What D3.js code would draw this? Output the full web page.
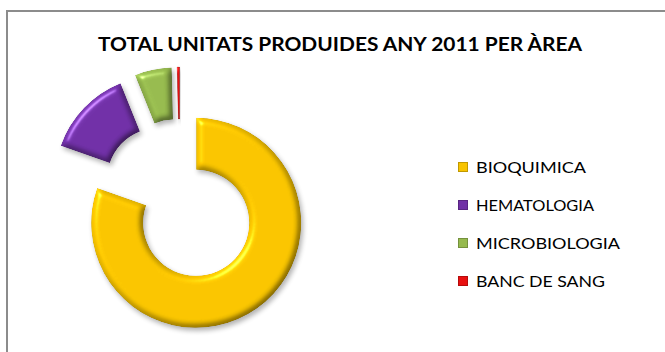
<!DOCTYPE html>
<html>
<head>
<meta charset="utf-8">
<script src="https://cdn.jsdelivr.net/npm/d3@7"></script>
<style>
  html, body { margin: 0; padding: 0; background: #fff; }
  svg { display: block; }
</style>
</head>
<body>
<svg id="chart" width="665" height="352"></svg>
<script>
// Units produced in 2011, by laboratory area (share of total, %)
const categories = ["BIOQUIMICA", "HEMATOLOGIA", "MICROBIOLOGIA", "BANC DE SANG"];
const values = [80.4, 13.5, 5.7, 0.4];
const colors = ["#F8C400", "#7030A6", "#96BA4E", "#E81010"];
const title = "TOTAL UNITATS PRODUIDES ANY 2011 PER ÀREA";

const svg = d3.select("#chart");
const W = 665, H = 352;

// chart frame (only the top and left edges fall inside the view)
svg.append("rect")
  .attr("x", 7).attr("y", 11)
  .attr("width", W + 10).attr("height", H + 10)
  .attr("fill", "#fff")
  .attr("stroke", "#8c8c8c").attr("stroke-width", 2);

// rounded bevel with a soft drop shadow
const defs = svg.append("defs");
function bevelFilter(id, blurDev, specAmt, shadow) {
  const f = defs.append("filter").attr("id", id)
    .attr("color-interpolation-filters", "sRGB")
    .attr("x", "-30%").attr("y", "-30%").attr("width", "160%").attr("height", "160%");
  f.append("feGaussianBlur").attr("in", "SourceAlpha").attr("stdDeviation", blurDev).attr("result", "blur");
  const diff = f.append("feDiffuseLighting").attr("in", "blur")
    .attr("surfaceScale", 5).attr("diffuseConstant", 1.0)
    .attr("lighting-color", "#ffffff").attr("result", "diff");
  diff.append("feDistantLight").attr("azimuth", 225).attr("elevation", 60);
  // flat areas keep the base colour; slopes turn lighter (top-left) or darker (bottom-right)
  f.append("feComposite").attr("in", "SourceGraphic").attr("in2", "diff")
    .attr("operator", "arithmetic").attr("k1", 0.62).attr("k2", 0.47).attr("k3", 0).attr("k4", 0)
    .attr("result", "lit");
  const spec = f.append("feSpecularLighting").attr("in", "blur")
    .attr("surfaceScale", 5).attr("specularConstant", 0.9)
    .attr("specularExponent", 35).attr("lighting-color", "#ffffff").attr("result", "spec");
  spec.append("feDistantLight").attr("azimuth", 225).attr("elevation", 35);
  f.append("feComposite").attr("in", "lit").attr("in2", "spec")
    .attr("operator", "arithmetic").attr("k1", 0).attr("k2", 1).attr("k3", specAmt).attr("k4", 0)
    .attr("result", "sum");
  f.append("feComposite").attr("in", "sum").attr("in2", "SourceAlpha").attr("operator", "in").attr("result", "shape");
  f.append("feGaussianBlur").attr("in", "SourceAlpha").attr("stdDeviation", 2.5).attr("result", "sblur");
  f.append("feOffset").attr("in", "sblur").attr("dx", 2).attr("dy", 3).attr("result", "soff");
  f.append("feComponentTransfer").attr("in", "soff").attr("result", "shadow")
    .append("feFuncA").attr("type", "linear").attr("slope", shadow);
  const merge = f.append("feMerge");
  merge.append("feMergeNode").attr("in", "shadow");
  merge.append("feMergeNode").attr("in", "shape");
}
bevelFilter("bevel", 3, 0.4, 0.3);

// title
svg.append("text")
  .attr("x", 340).attr("y", 51)
  .attr("text-anchor", "middle")
  .attr("font-family", "Lato, 'Open Sans', sans-serif")
  .attr("font-weight", "bold").attr("font-size", 18)
  .attr("textLength", 484).attr("lengthAdjust", "spacingAndGlyphs")
  .attr("fill", "#000")
  .text(title);

// exploded doughnut
const cx = 180, cy = 200, outerR = 105, innerR = 53, explode = 28;
const pie = d3.pie().sort(null).value(d => d.v).startAngle(0).endAngle(2 * Math.PI);
const arc = d3.arc().innerRadius(innerR).outerRadius(outerR);
const data = categories.map((c, i) => ({ c, v: values[i], col: colors[i] }));

const g = svg.append("g").attr("transform", `translate(${cx},${cy})`);
g.selectAll("path.slice")
  .data(pie(data))
  .join("path")
  .attr("class", "slice")
  .attr("transform", d => {
    const a = (d.startAngle + d.endAngle) / 2;
    return `translate(${explode * Math.sin(a)},${-explode * Math.cos(a)})`;
  })
  .attr("d", arc)
  .attr("fill", d => d.data.col)
  .attr("stroke", d => d3.color(d.data.col).darker(1.2))
  .attr("stroke-width", d => (d.endAngle - d.startAngle) < 0.05 ? 0.6 : 0)
  .attr("filter", "url(#bevel)");

// legend
const lg = svg.append("g");
const rows = lg.selectAll("g.item").data(data).join("g")
  .attr("class", "item")
  .attr("transform", (d, i) => `translate(458,${162 + i * 38})`);
rows.append("rect")
  .attr("x", 0.5).attr("y", 0.5)
  .attr("width", 9).attr("height", 9)
  .attr("fill", d => d.col)
  .attr("stroke", d => d3.color(d.col).darker(0.7)).attr("stroke-width", 1);
const textW = [110, 118, 144, 129];
rows.append("text")
  .attr("x", 18).attr("y", 10.8)
  .attr("font-family", "Lato, 'Open Sans', sans-serif")
  .attr("font-size", 16)
  .attr("textLength", (d, i) => textW[i]).attr("lengthAdjust", "spacingAndGlyphs")
  .attr("fill", "#000")
  .text(d => d.c);
</script>
</body>
</html>
